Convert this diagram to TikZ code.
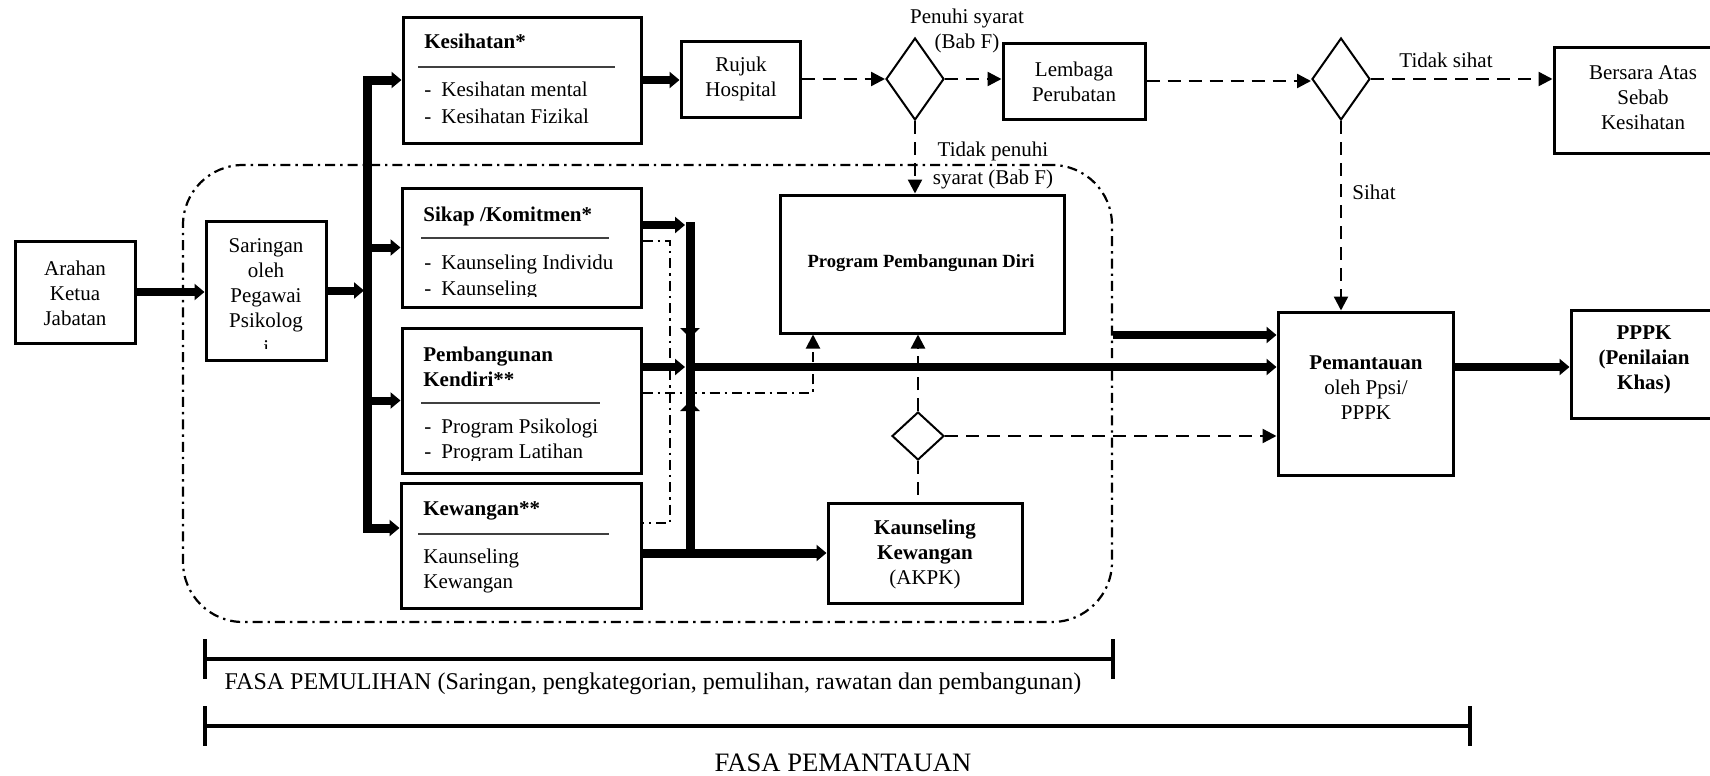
\documentclass[tikz,border=0pt]{standalone}
\usepackage{fontspec}
\setmainfont{Liberation Serif}
\usetikzlibrary{arrows.meta,shapes.geometric,fit}
\begin{document}
\begin{tikzpicture}[x=0.5pt,y=-0.5pt,
  every node/.style={font=\fontsize{10.5}{12.5}\selectfont},
  bf/.style={font=\fontsize{10.5}{12.5}\selectfont\bfseries},
  box/.style={draw,line width=1.5pt,inner sep=0pt},
  dia/.style={draw,diamond,line width=1pt,inner sep=0pt,minimum width=29pt,minimum height=41pt},
  tl/.style={inner sep=0pt,anchor=base west},
  tc/.style={inner sep=0pt,align=center},
  thk/.style={line width=4pt,-{Triangle[length=5pt,width=8pt]}},
  dsh/.style={line width=1.2pt,dash pattern=on 6.5pt off 4pt,-{Triangle[length=7pt,width=7pt]}},
  dshl/.style={line width=1.2pt,dash pattern=on 6.5pt off 4pt},
  dd/.style={line width=1pt,dash pattern=on 5pt off 2.5pt on 1.2pt off 2.5pt},
  sep/.style={line width=0.8pt,draw=black!75},
  brk/.style={line width=1.6pt}]
\clip (0,0) rectangle (1710,776);
\fill[white] (0,0) rectangle (1710,776);

% region
\node[fit={(183,165)(1112,622)},inner sep=0pt,draw,rounded corners=30pt,dd,line width=1.1pt] (reg) {};

% boxes
\node[box,fit={(15,241)(135,343)}] (arahan) {};
\node[box,fit={(206,221)(326,360)}] (sar) {};
\node[box,fit={(403,17)(641,143)}] (kes) {};
\node[box,fit={(402,188)(641,307)}] (sik) {};
\node[box,fit={(402,328)(641,473)}] (pk) {};
\node[box,fit={(401,483)(641,608)}] (kew) {};
\node[box,fit={(681,41)(800,117)}] (rujuk) {};
\node[dia] (d1) at (915,79) {};
\node[box,fit={(1003,43)(1145,119)}] (lem) {};
\node[dia] (d2) at (1341,79) {};
\node[box,fit={(1554,47)(1740,153)}] (ber) {};
\node[box,fit={(780,195)(1064,333)}] (prog) {};
\node[dia,minimum width=26pt,minimum height=24pt] (d3) at (918,436) {};
\node[box,fit={(828,503)(1022,603)}] (akpk) {};
\node[box,fit={(1278,312)(1453,475)}] (pem) {};
\node[box,fit={(1571,310)(1740,418)}] (pppk) {};

% texts
\node[tc] (arahan-t) at (75,293) {Arahan\\Ketua\\Jabatan};
\node[tc] (sar-t) at (266,285) {Saringan\\oleh\\Pegawai\\Psikolog};
\begin{scope}
\clip (206,330) rectangle (326,348);
\node[tl] (sar-i) at (263,354) {i};
\end{scope}

\node[tl,bf] (kes-t) at (424,48) {Kesihatan*};
\draw[sep] (418,67) -- (615,67);
\node[tl] (kes-1) at (424,96) {-\hspace{5pt}Kesihatan mental};
\node[tl] (kes-2) at (424,123) {-\hspace{5pt}Kesihatan Fizikal};

\node[tl,bf] (sik-t) at (423,221) {Sikap /Komitmen*};
\draw[sep] (421,238) -- (609,238);
\node[tl] (sik-1) at (424,269) {-\hspace{5pt}Kaunseling Individu};
\begin{scope}
\clip (402,276) rectangle (641,296);
\node[tl] (sik-2) at (424,295) {-\hspace{5pt}Kaunseling};
\end{scope}

\node[tl,bf] (pk-t1) at (423,361) {Pembangunan};
\node[tl,bf] (pk-t2) at (423,386) {Kendiri**};
\draw[sep] (421,403) -- (600,403);
\node[tl] (pk-1) at (424,433) {-\hspace{5pt}Program Psikologi};
\begin{scope}
\clip (402,440) rectangle (641,460);
\node[tl] (pk-2) at (424,458) {-\hspace{5pt}Program Latihan};
\end{scope}

\node[tl,bf] (kew-t) at (423,515) {Kewangan**};
\draw[sep] (418,534) -- (609,534);
\node[tl] (kew-1) at (423,563) {Kaunseling};
\node[tl] (kew-2) at (423,588) {Kewangan};

\node[tc] (rujuk-t) at (741,79) {Rujuk\\Hospital};
\node[tc] (lem-t) at (1074,82) {Lembaga\\Perubatan};
\node[tc] (ber-t) at (1643,98) {Bersara Atas\\Sebab\\Kesihatan};
\node[tc,font=\fontsize{9.3}{11}\selectfont\bfseries] (prog-t) at (921,263) {Program Pembangunan Diri};
\node[tc] (akpk-t) at (925,554) {\textbf{Kaunseling}\\\textbf{Kewangan}\\(AKPK)};
\node[tc] (pem-t) at (1366,388) {\textbf{Pemantauan}\\oleh Ppsi/\\PPPK};
\node[tc,bf] (pppk-t) at (1644,360) {PPPK\\(Penilaian\\Khas)};

% labels
\node[tc] (lbl-penuhi) at (967,31) {Penuhi syarat\\(Bab F)};
\node[tc] (lbl-tidak) at (993,165) {Tidak penuhi\\[1.5pt]syarat (Bab F)};
\node[tc] (lbl-ts) at (1446,60) {Tidak sihat};
\node[tc] (lbl-s) at (1374,192) {Sihat};

% bus
\coordinate (bustop) at (367,80);
\coordinate (busmid) at (367,300);
\coordinate (busbot) at (367,528);
\draw[thk,line width=4.5pt] (busmid) -- (bustop) -- (bustop -| kes.west);
\draw[thk,line width=4.5pt] (busmid) -- (busbot) -- (busbot -| kew.west);
\draw[thk] (arahan.east) -- (arahan.east -| sar.west);
\draw[thk,shorten >=1.5pt] (sar.east) -- (sar.east -| bustop);
\draw[thk] (sik.west -| bustop) -- (sik.west);
\draw[thk] (pk.west -| bustop) -- (pk.west);

% top row
\draw[thk] (kes.east) -- (kes.east -| rujuk.west);
\draw[dsh] (rujuk.east) -- (d1.west);
\draw[dsh] (d1.east) -- (d1.east -| lem.west);
\draw[dsh] (lem.east) -- (lem.east -| d2.west);
\draw[dsh] (d2.east) -- (d2.east -| ber.west);
\draw[dsh] (d1.south) -- (d1.south |- prog.north);
\draw[dsh] (d2.south) -- (d2.south |- pem.north);

% bar
\coordinate (bartop) at (690,222);
\coordinate (barbot) at (690,552);
\coordinate (jn) at (690,367);
\coordinate (sa) at (690,225);
\coordinate (barup) at (690,338);
\coordinate (bardn) at (690,401);
\draw[line width=4.5pt] (bartop) -- (barbot);
\draw[line width=4.5pt,-{Triangle[length=5pt,width=9.5pt]}] (bartop) -- (barup);
\draw[line width=4.5pt,-{Triangle[length=5pt,width=9.5pt]}] (barbot) -- (bardn);
\draw[thk,shorten >=2.5pt] (sik.east |- sa) -- (sa);
\draw[thk,shorten >=2.5pt] (pk.east |- jn) -- (jn);
\draw[thk] (jn) -- (jn -| pem.west);
\coordinate (rg) at (reg.east |- 0,335);
\draw[thk] (rg) -- (rg -| pem.west);
\draw[thk,line width=4.5pt] (akpk.west -| kew.east) -- (akpk.west);
\draw[thk] (jn -| pem.east) -- (jn -| pppk.west);

% small diamond
\draw[dshl] (d3.south) -- (d3.south |- akpk.north);
\draw[dsh] (d3.north) -- (d3.north |- prog.south);
\draw[dsh] (d3.east) -- (d3.east -| pem.west);

% dash-dot links
\coordinate (dda) at (670,241);
\coordinate (ddb) at (670,523);
\coordinate (ddc) at (813,393);
\draw[dd] (sik.east |- dda) -- (dda) -- (ddb) -- (ddb -| kew.east);
\draw[dd,-{Triangle[length=7pt,width=7pt]}] (pk.east |- ddc) -- (ddc) -- (ddc |- prog.south);

% phase brackets
\coordinate (b1l) at (205,659);
\coordinate (b1r) at (1113,659);
\coordinate (b2l) at (205,726);
\coordinate (b2r) at (1470,726);
\draw[brk] ([yshift=10pt]b1l) -- ([yshift=-10pt]b1l);
\draw[brk] ([yshift=10pt]b1r) -- ([yshift=-10pt]b1r);
\draw[brk] (b1l) -- (b1r);
\draw[brk] ([yshift=10pt]b2l) -- ([yshift=-10pt]b2l);
\draw[brk] ([yshift=10pt]b2r) -- ([yshift=-10pt]b2r);
\draw[brk] (b2l) -- (b2r);
\node[tc,font=\fontsize{12}{14}\selectfont] (fasa1) at (653,684) {FASA PEMULIHAN (Saringan, pengkategorian, pemulihan, rawatan dan pembangunan)};
\node[tc,font=\fontsize{13.3}{15}\selectfont] (fasa2) at (843,763) {FASA PEMANTAUAN};
\end{tikzpicture}
\end{document}
